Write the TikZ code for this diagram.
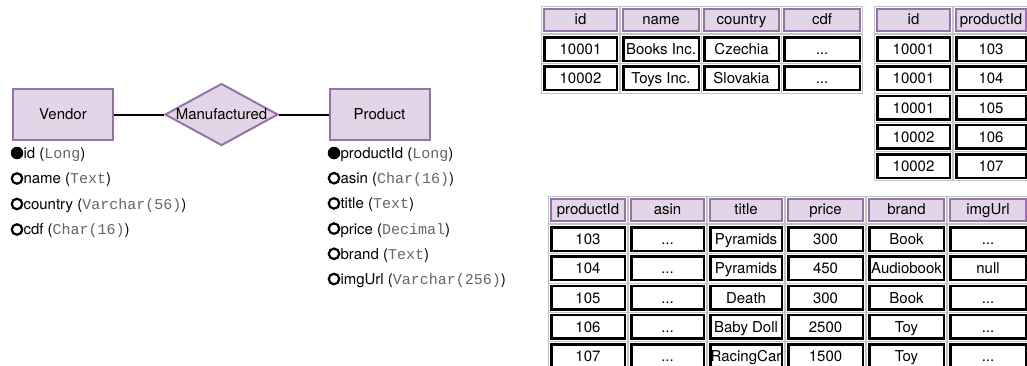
\documentclass[tikz,border=0pt]{standalone}
\usepackage{fontspec}
\setmainfont{TeX Gyre Heros}
\newfontfamily\typefont{Liberation Mono}
\usetikzlibrary{shapes.geometric}
\definecolor{lav}{HTML}{E1D5E7}
\definecolor{purp}{HTML}{9673A6}
\definecolor{typegray}{HTML}{666666}
\definecolor{framegray}{HTML}{C4C4C4}
\newcommand{\ty}[1]{{\typefont\color{typegray}#1}}
\newcommand{\dotsval}{...}
\tikzset{
  entity/.style={rectangle, draw=purp, fill=lav, line width=2pt,
    minimum width=100pt, minimum height=50.5pt, inner sep=0pt},
  relation/.style={diamond, draw=purp, fill=lav, line width=2pt,
    minimum width=113pt, minimum height=62pt, inner sep=0pt},
  link/.style={line width=2pt},
  keydot/.style={circle, fill=black, minimum size=12.5pt, inner sep=0pt},
  attrdot/.style={circle, draw=black, line width=2.2pt, minimum size=10.5pt, inner sep=0pt},
  attr/.style={anchor=west, inner sep=0pt, text height=10.8pt, text depth=0pt},
  cellbase/.style={rectangle, inner sep=0pt, text height=10.8pt, text depth=0pt},
  headcell/.style={cellbase, draw=purp, fill=lav, line width=2pt, minimum height=22pt},
  datacell/.style={cellbase, draw=black, fill=white, line width=2.5pt, minimum height=23.5pt},
  cellframe/.style={draw=framegray, line width=0.8pt},
}
\newcommand{\framecell}[1]{%
  \draw[cellframe] ([xshift=-1.6pt,yshift=1.6pt]#1.north west)
    rectangle ([xshift=1.6pt,yshift=-1.6pt]#1.south east);}
\begin{document}
\begin{tikzpicture}[x=1pt, y=-1pt, font=\fontsize{15pt}{18pt}\selectfont]
\useasboundingbox (0,0) rectangle (1027,365);

% ---------- ER diagram ----------
\node[entity] (vendor) at (63,114.5) {Vendor};
\node[relation] (made) at (221.5,114.5) {\makebox[0pt]{Manufactured}};
\node[entity] (product) at (379.5,114.5) {Product};
\draw[link] (vendor.east) -- (made.west);
\draw[link] (made.east) -- (product.west);

% vendor attributes
\foreach \an/\at/\ay/\ast [count=\i] in
  {id/Long/153/keydot, name/Text/178.5/attrdot,
   country/Varchar(56)/204/attrdot, cdf/Char(16)/229.5/attrdot}{
  \node[\ast] (vdot-\i) at (17,\ay) {};
  \node[attr] (vattr-\i) at (vdot-\i.east) {\an\ (\ty{\at})};
}

% product attributes
\foreach \an/\at/\ay/\ast [count=\i] in
  {productId/Long/153/keydot, asin/Char(16)/178.2/attrdot,
   title/Text/203.4/attrdot, price/Decimal/228.6/attrdot,
   brand/Text/253.8/attrdot, imgUrl/Varchar(256)/279/attrdot}{
  \node[\ast] (pdot-\i) at (334,\ay) {};
  \node[attr] (pattr-\i) at (pdot-\i.east) {\an\ (\ty{\at})};
}

% ---------- vendor table ----------
\def\vx{{580.5,661,741.5,822}}
\def\vw{{72.5,75.5,74.5,75.5}}
\foreach \t [count=\col] in {id,name,country,cdf}{
  \pgfmathsetmacro\xx{\vx[\col-1]}
  \pgfmathsetmacro\ww{\vw[\col-1]}
  \node[headcell, minimum width=\ww pt] (vt-h-\col) at (\xx,19.5) {\t};
  \framecell{vt-h-\col}
}
\foreach \ry/\ta/\tb/\tc/\td [count=\row] in
  {49/10001/Books Inc./Czechia/\dotsval,
   78.3/10002/Toys Inc./Slovakia/\dotsval}{
  \foreach \t [count=\col] in {\ta,\tb,\tc,\td}{
    \pgfmathsetmacro\xx{\vx[\col-1]}
    \pgfmathsetmacro\ww{\vw[\col-1]}
    \node[datacell, minimum width=\ww pt] (vt-\row-\col) at (\xx,\ry) {\t};
    \framecell{vt-\row-\col}
  }
}

% ---------- vendor/product link table ----------
\def\lx{{913.5,991}}
\def\lw{{72.5,69.5}}
\foreach \t [count=\col] in {id,productId}{
  \pgfmathsetmacro\xx{\lx[\col-1]}
  \pgfmathsetmacro\ww{\lw[\col-1]}
  \node[headcell, minimum width=\ww pt] (lt-h-\col) at (\xx,19.5) {\t};
  \framecell{lt-h-\col}
}
\foreach \ta/\tb [count=\row] in
  {10001/103, 10001/104, 10001/105, 10002/106, 10002/107}{
  \pgfmathsetmacro\ry{49+29.3*(\row-1)}
  \foreach \t [count=\col] in {\ta,\tb}{
    \pgfmathsetmacro\xx{\lx[\col-1]}
    \pgfmathsetmacro\ww{\lw[\col-1]}
    \node[datacell, minimum width=\ww pt] (lt-\row-\col) at (\xx,\ry) {\t};
    \framecell{lt-\row-\col}
  }
}

% ---------- product table ----------
\def\px{{588,667.5,746,825.5,906.5,988}}
\def\pw{{73.5,72.5,71.5,74.5,74.5,75.5}}
\foreach \t [count=\col] in {productId,asin,title,price,brand,imgUrl}{
  \pgfmathsetmacro\xx{\px[\col-1]}
  \pgfmathsetmacro\ww{\pw[\col-1]}
  \node[headcell, minimum width=\ww pt] (pt-h-\col) at (\xx,209.5) {\t};
  \framecell{pt-h-\col}
}
\foreach \ta/\tb/\tc/\td/\te/\tf [count=\row] in
  {103/\dotsval/Pyramids/300/Book/\dotsval,
   104/\dotsval/Pyramids/450/Audiobook/null,
   105/\dotsval/Death/300/Book/\dotsval,
   106/\dotsval/Baby Doll/2500/Toy/\dotsval,
   107/\dotsval/RacingCar/1500/Toy/\dotsval}{
  \pgfmathsetmacro\ry{239+29.3*(\row-1)}
  \foreach \t [count=\col] in {\ta,\tb,\tc,\td,\te,\tf}{
    \pgfmathsetmacro\xx{\px[\col-1]}
    \pgfmathsetmacro\ww{\pw[\col-1]}
    \node[datacell, minimum width=\ww pt] (pt-\row-\col) at (\xx,\ry) {\t};
    \framecell{pt-\row-\col}
  }
}
\end{tikzpicture}
\end{document}
